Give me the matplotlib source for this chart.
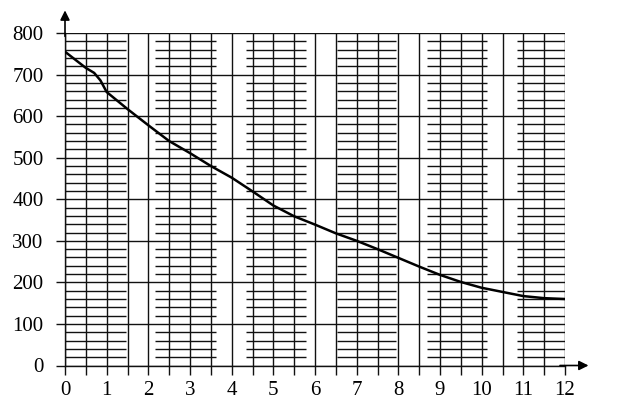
import numpy as np
from matplotlib import pyplot as plt

# curve
x_vals = [0, 0.5, 0.7, 0.85, 1.0, 1.5, 2, 2.5, 3, 3.5, 4, 4.5, 5, 5.5, 6,
          6.5, 7, 7.5, 8, 8.5, 9, 9.5, 10, 10.5, 11, 11.5, 12]
y_vals = [755, 716, 704, 686, 658, 617, 578, 540, 511, 480, 452, 419, 385,
          359, 339, 318, 300, 280, 259, 238, 218, 201, 187, 177, 167, 162, 160]

x_labels = [str(i) for i in range(13)]
y_labels = [str(v) for v in range(0, 900, 100)]

# x-ranges where the fine (every 20) horizontal lines are drawn
hatch_spans = [(0, 1.46), (2.17, 3.63), (4.34, 5.78), (6.52, 7.94),
               (8.69, 10.13), (10.85, 12)]

plt.rcParams['font.family'] = ['Liberation Serif', 'DejaVu Serif']

fig = plt.figure(figsize=(6.2, 4.09), dpi=100)
ax = fig.add_axes([65 / 620, 43.5 / 409, 500 / 620, 332.5 / 409])
ax.set_xlim(0, 12)
ax.set_ylim(0, 800)

gc = '#111111'
glw = 1.0

# vertical lines every 0.5
ax.vlines(np.arange(0, 12.01, 0.5), 0, 800, color=gc, lw=glw, zorder=1)
# major horizontal lines every 100
ax.hlines(np.arange(0, 801, 100), 0, 12, color=gc, lw=glw, zorder=1)
# fine horizontal lines in blocks
fine = [v for v in range(20, 800, 20) if v % 100 != 0]
for a, b in hatch_spans:
    ax.hlines(fine, a, b, color=gc, lw=glw, zorder=1)

ax.plot(x_vals, y_vals, color='black', lw=1.8, zorder=3)

for s in ['top', 'right']:
    ax.spines[s].set_visible(False)
for s in ['left', 'bottom']:
    ax.spines[s].set_color(gc)
    ax.spines[s].set_linewidth(glw)

ax.set_xticks(range(13))
ax.set_xticklabels(x_labels)
ax.set_xticks(np.arange(0.5, 12, 1.0), minor=True)
ax.set_yticks(range(0, 900, 100))
ax.set_yticklabels(y_labels)
ax.tick_params(axis='both', which='both', direction='out', length=6.5,
               width=glw, color=gc, labelsize=15)
ax.tick_params(axis='x', pad=5)
ax.tick_params(axis='y', pad=9)

# axis arrows
ax.annotate('', xy=(0, 1.068), xytext=(0, 0.99), xycoords='axes fraction',
            arrowprops=dict(arrowstyle='-|>', color='black', lw=1.2,
                            mutation_scale=14, shrinkA=0, shrinkB=0))
ax.annotate('', xy=(1.047, 0), xytext=(0.99, 0), xycoords='axes fraction',
            arrowprops=dict(arrowstyle='-|>', color='black', lw=1.2,
                            mutation_scale=14, shrinkA=0, shrinkB=0))

plt.savefig('out.png', dpi=100)
